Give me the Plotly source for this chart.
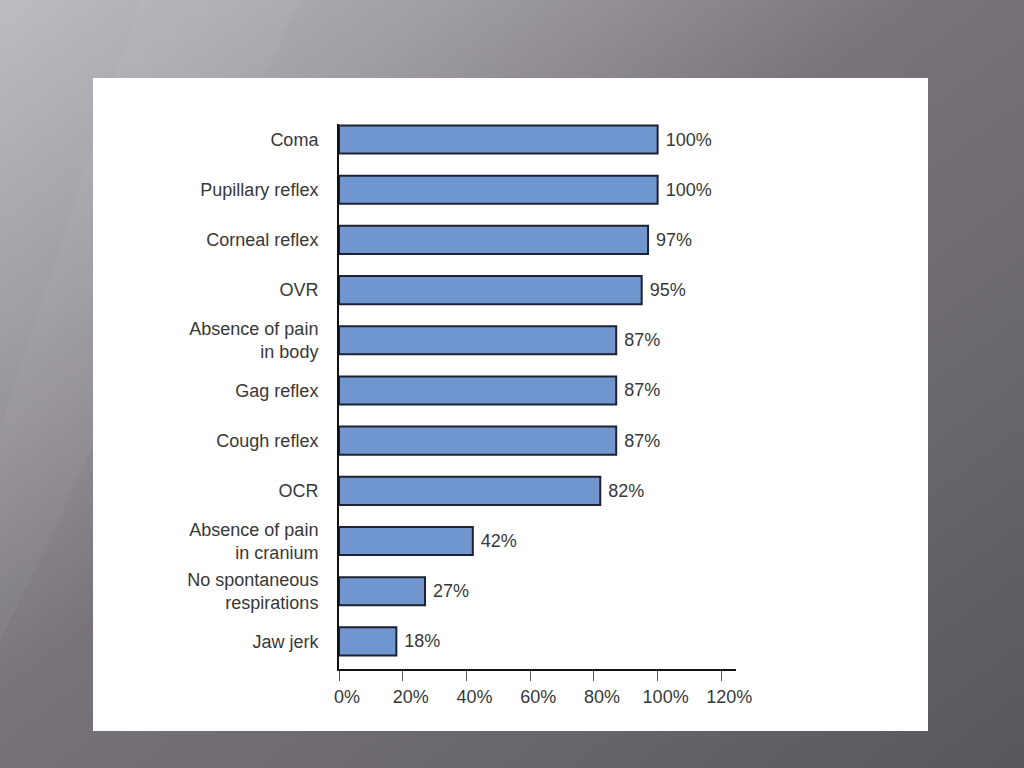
import base64
import plotly.graph_objects as go

categories = ["Coma", "Pupillary reflex", "Corneal reflex", "OVR",
              "Absence of pain<br>in body", "Gag reflex", "Cough reflex", "OCR",
              "Absence of pain<br>in cranium", "No spontaneous<br>respirations", "Jaw jerk"]
values = [100, 100, 97, 95, 87, 87, 87, 82, 42, 27, 18]
x_ticks = [0, 20, 40, 60, 80, 100, 120]
x_tick_labels = ["0%", "20%", "40%", "60%", "80%", "100%", "120%"]

W, H = 1024, 768
# plot area in pixels
L, R, T, B = 339, 736, 124, 669
FONT = 'Liberation Sans, Arial, Helvetica'


def px2x(px):
    return (px - L) / (R - L)


def py2y(py):
    return (B - py) / (B - T)


# slide background: grey gradient with white panel
svg = """<svg xmlns='http://www.w3.org/2000/svg' width='1024' height='768'>
<defs>
<linearGradient id='g' x1='0' y1='0' x2='1' y2='1'>
<stop offset='0' stop-color='#bebbc1'/>
<stop offset='0.22' stop-color='#a09da3'/>
<stop offset='0.45' stop-color='#78747a'/>
<stop offset='0.75' stop-color='#68656b'/>
<stop offset='1' stop-color='#58555b'/>
</linearGradient>
</defs>
<rect width='1024' height='768' fill='url(#g)'/>
<path d='M140 0 L300 0 L40 560 L0 640 L0 430 Z' fill='#ffffff' opacity='0.04'/>
<rect x='93' y='78' width='835' height='653' fill='#ffffff'/>
</svg>"""
bg_src = "data:image/svg+xml;base64," + base64.b64encode(svg.encode()).decode()

fig = go.Figure()
fig.add_bar(
    x=values, y=categories, orientation='h', width=0.56,
    marker={'color': '#7096d0', 'line': {'color': '#1e2230', 'width': 2}},
    text=[' %d%%' % v for v in values], textposition='outside',
    textfont={'family': FONT, 'size': 18, 'color': '#383838'},
    cliponaxis=False,
)

fig.update_layout(
    width=W, height=H,
    margin={'l': L, 'r': W - R, 't': T, 'b': H - B, 'pad': 0},
    paper_bgcolor='#6f6c72',
    plot_bgcolor='rgba(0,0,0,0)',
    showlegend=False,
    font={'family': FONT, 'size': 18, 'color': '#383838'},
    images=[{
        'source': bg_src, 'xref': 'paper', 'yref': 'paper',
        'x': px2x(0), 'y': py2y(0), 'sizex': W / (R - L), 'sizey': H / (B - T),
        'xanchor': 'left', 'yanchor': 'top', 'sizing': 'stretch', 'layer': 'below',
    }],
)

fig.update_xaxes(
    range=[0, 124.6], tickvals=x_ticks, ticktext=x_tick_labels,
    showgrid=False, zeroline=False,
    showline=True, linecolor='#111111', linewidth=2,
    ticks='outside', ticklen=10, tickwidth=1, tickcolor='#555555',
    ticklabelshift=8, tickfont={'size': 18, 'color': '#383838'},
)
fig.update_yaxes(
    categoryorder='array', categoryarray=categories,
    range=[10.55, -0.31],
    showgrid=False, zeroline=False,
    showline=True, linecolor='#111111', linewidth=2,
    ticks='outside', ticklen=15, tickcolor='rgba(0,0,0,0)',
    tickfont={'size': 18, 'color': '#383838'},
)

fig.write_html("out.html", config={'displayModeBar': False},
               post_script="document.body.style.margin='0';document.body.style.overflow='hidden';")
